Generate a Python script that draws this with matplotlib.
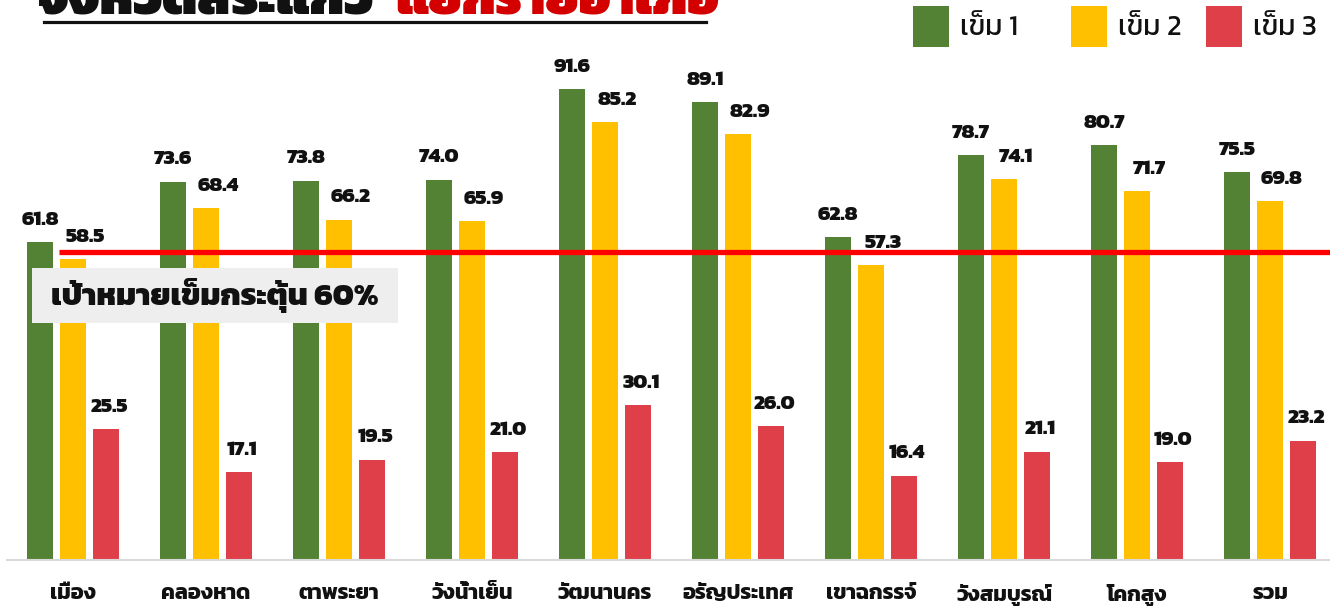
import matplotlib
matplotlib.use("Agg")
import matplotlib.pyplot as plt
from matplotlib.patches import Rectangle
import numpy as np

plt.rcParams['font.family'] = ['Kanit', 'DejaVu Sans']

# data
districts = ["เมือง", "คลองหาด", "ตาพระยา", "วังน้ำเย็น", "วัฒนานคร",
             "อรัญประเทศ", "เขาฉกรรจ์", "วังสมบูรณ์", "โคกสูง", "รวม"]
dose1 = [61.8, 73.6, 73.8, 74.0, 91.6, 89.1, 62.8, 78.7, 80.7, 75.5]
dose2 = [58.5, 68.4, 66.2, 65.9, 85.2, 82.9, 57.3, 74.1, 71.7, 69.8]
dose3 = [25.5, 17.1, 19.5, 21.0, 30.1, 26.0, 16.4, 21.1, 19.0, 23.2]
series_names = ["เข็ม 1", "เข็ม 2", "เข็ม 3"]
target = 60
target_label = "เป้าหมายเข็มกระตุ้น 60%"
title_black = "จังหวัดสระแก้ว"
title_red = "แยกรายอำเภอ"

colors = ["#548235", "#FFC000", "#DF3F48"]

W, H = 1330, 606
fig = plt.figure(figsize=(W / 100, H / 100), dpi=100)
fig.patch.set_facecolor("white")

# px -> figure fraction helpers
def fx(px):
    return px / W

def fy(py):
    return 1 - py / H

ax = fig.add_axes([fx(7), fy(560), fx(1323), 514 / H])
pitch = 133.0
x0 = 73.0
ax.set_xlim((7 - x0) / pitch, (1330 - x0) / pitch)
ax.set_ylim(0, 100)

x = np.arange(len(districts))
bw = 26 / pitch
off = 33 / pitch
series = [dose1, dose2, dose3]
label_dx = [0, 8.6, 2.2]
for k, vals in enumerate(series):
    xs = x + (k - 1) * off
    ax.bar(xs, vals, width=bw, color=colors[k], zorder=2)
    for xi, v in zip(xs, vals):
        ax.annotate(f"{v:.1f}", (xi, v), xytext=(label_dx[k], 12.5),
                    textcoords="offset points", ha="center", va="baseline",
                    fontsize=15, fontweight="heavy", color="#111111", zorder=5)

# target line
ax.plot([(59 - x0) / pitch, (1330 - x0) / pitch], [target, target],
        color="#FF0000", lw=3.8, zorder=4, clip_on=False, solid_capstyle="butt")

# target label box
bx0, bx1 = (32 - x0) / pitch, (398 - x0) / pitch
by0, by1 = (560 - 323) / 5.14, (560 - 268) / 5.14
ax.add_patch(Rectangle((bx0, by0), bx1 - bx0, by1 - by0, facecolor="#EEEEEE",
                       edgecolor="none", zorder=6))
ax.text((bx0 + bx1) / 2, (by0 + by1) / 2, target_label, ha="center", va="center",
        fontsize=22.5, fontweight="heavy", color="#111111", zorder=7)

for s in ["top", "left", "right"]:
    ax.spines[s].set_visible(False)
ax.spines["bottom"].set_color("#D9D9D9")
ax.spines["bottom"].set_linewidth(1.5)
ax.set_yticks([])
ax.set_xticks(x)
ax.set_xticklabels(districts, fontsize=15.5, fontweight="bold", color="#111111")
ax.tick_params(axis="x", length=0, pad=17)

# legend drawn by hand at the top right
leg_sq = [913, 1071, 1206]
for k in range(3):
    fig.add_artist(Rectangle((fx(leg_sq[k]), fy(47)), fx(36), 41 / H,
                             facecolor=colors[k], edgecolor="none",
                             transform=fig.transFigure))
    fig.text(fx(leg_sq[k] + 47), fy(28), series_names[k], ha="left", va="center",
             fontsize=20.5, color="#111111")

# title (cut off at the top edge in the original)
fig.text(fx(37), fy(14), title_black, ha="left", va="baseline",
         fontsize=38, fontweight="black", color="#111111")
fig.text(fx(395), fy(14), title_red, ha="left", va="baseline",
         fontsize=37, fontweight="black", color="#D40000")
fig.add_artist(plt.Line2D([fx(44), fx(706)], [fy(22), fy(22)], color="#111111",
                          lw=2.3, transform=fig.transFigure))

fig.savefig("out.png", dpi=100)
